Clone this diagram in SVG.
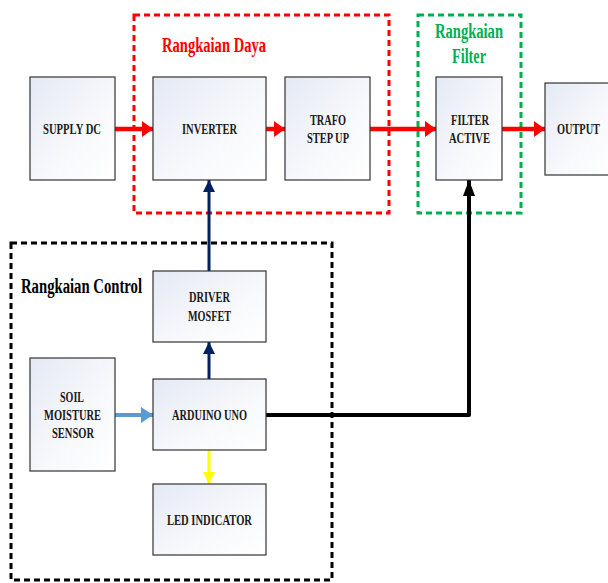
<svg xmlns="http://www.w3.org/2000/svg" width="608" height="583" viewBox="0 0 608 583">
<defs>
<linearGradient id="g" x1="0" y1="0" x2="1" y2="1">
<stop offset="0" stop-color="#e4e9f4"/>
<stop offset="0.6" stop-color="#f8f9fc"/>
<stop offset="1" stop-color="#ffffff"/>
</linearGradient>
<marker id="mr" markerUnits="userSpaceOnUse" markerWidth="12" markerHeight="18" refX="11" refY="8" orient="auto"><path d="M0,0 L11,8 L0,16 Z" fill="#ff0000"/></marker>
<marker id="mn" markerUnits="userSpaceOnUse" markerWidth="14" markerHeight="14" refX="12" refY="6" orient="auto"><path d="M0,0 L12,6 L0,12 Z" fill="#002060"/></marker>
<marker id="mb" markerUnits="userSpaceOnUse" markerWidth="14" markerHeight="18" refX="12" refY="8" orient="auto"><path d="M0,0 L12,8 L0,16 Z" fill="#5b9bd5"/></marker>
<marker id="my" markerUnits="userSpaceOnUse" markerWidth="14" markerHeight="14" refX="12" refY="6" orient="auto"><path d="M0,0 L12,6 L0,12 Z" fill="#ffff00"/></marker>
<marker id="mk" markerUnits="userSpaceOnUse" markerWidth="18" markerHeight="14" refX="16" refY="6" orient="auto"><path d="M0,0 L16,6 L0,12 Z" fill="#000000"/></marker>
</defs>
<style>
.box{fill:url(#g);stroke:#333;stroke-width:1.2}
.lbl{font-family:"Liberation Serif","Times New Roman",serif;font-weight:bold;font-size:14.5px;fill:#1a1a1a}
.ttl{font-family:"Liberation Serif","Times New Roman",serif;font-weight:bold;font-size:20px}
.grp{fill:none;stroke-width:3;stroke-dasharray:6 4}
</style>
<rect width="608" height="583" fill="#fff"/>
<g id="groups">
<rect class="grp" x="134" y="15" width="255" height="198" stroke="#ff0000"/>
<rect class="grp" x="418" y="15" width="103" height="198" stroke="#00b050"/>
<rect class="grp" x="11" y="243" width="321" height="337" stroke="#000"/>
<text class="ttl" x="162" y="52" fill="#ff0000" textLength="104" lengthAdjust="spacingAndGlyphs">Rangkaian Daya</text>
<text class="ttl" x="435" y="38" fill="#00b050" textLength="68" lengthAdjust="spacingAndGlyphs">Rangkaian</text>
<text class="ttl" x="452" y="63" fill="#00b050" textLength="34" lengthAdjust="spacingAndGlyphs">Filter</text>
<text class="ttl" x="21" y="293" fill="#000" textLength="121" lengthAdjust="spacingAndGlyphs">Rangkaian Control</text>
</g>
<g id="connectors">
<line x1="115" y1="129" x2="153" y2="129" stroke="#ff0000" stroke-width="4.5" marker-end="url(#mr)"/>
<line x1="266" y1="129" x2="285" y2="129" stroke="#ff0000" stroke-width="4.5" marker-end="url(#mr)"/>
<line x1="370" y1="129" x2="436" y2="129" stroke="#ff0000" stroke-width="4.5" marker-end="url(#mr)"/>
<line x1="502" y1="129" x2="545" y2="129" stroke="#ff0000" stroke-width="4.5" marker-end="url(#mr)"/>
<line x1="209" y1="271" x2="209" y2="180" stroke="#002060" stroke-width="3" marker-end="url(#mn)"/>
<line x1="209" y1="379" x2="209" y2="342" stroke="#002060" stroke-width="3" marker-end="url(#mn)"/>
<line x1="115" y1="415" x2="153" y2="415" stroke="#5b9bd5" stroke-width="4" marker-end="url(#mb)"/>
<line x1="209" y1="450" x2="209" y2="484" stroke="#ffff00" stroke-width="3" marker-end="url(#my)"/>
<polyline points="266,415 469,415 469,180" fill="none" stroke="#000" stroke-width="4" stroke-linejoin="round" marker-end="url(#mk)"/>
</g>
<g id="supply"><rect class="box" x="30" y="77" width="85" height="103"/><text class="lbl" x="43" y="134" textLength="58" lengthAdjust="spacingAndGlyphs">SUPPLY DC</text></g>
<g id="inverter"><rect class="box" x="153" y="77" width="113" height="103"/><text class="lbl" x="182" y="134" textLength="55" lengthAdjust="spacingAndGlyphs">INVERTER</text></g>
<g id="trafo"><rect class="box" x="285" y="77" width="85" height="103"/><text class="lbl" x="310" y="125" textLength="36" lengthAdjust="spacingAndGlyphs">TRAFO</text><text class="lbl" x="307" y="143" textLength="42" lengthAdjust="spacingAndGlyphs">STEP UP</text></g>
<g id="filter"><rect class="box" x="436" y="77" width="66" height="103"/><text class="lbl" x="451" y="125" textLength="38" lengthAdjust="spacingAndGlyphs">FILTER</text><text class="lbl" x="449" y="143" textLength="41" lengthAdjust="spacingAndGlyphs">ACTIVE</text></g>
<g id="output"><rect class="box" x="545" y="83" width="66" height="92"/><text class="lbl" x="557" y="134" textLength="43" lengthAdjust="spacingAndGlyphs">OUTPUT</text></g>
<g id="driver"><rect class="box" x="153" y="271" width="113" height="71"/><text class="lbl" x="189" y="302" textLength="41" lengthAdjust="spacingAndGlyphs">DRIVER</text><text class="lbl" x="188" y="321" textLength="43" lengthAdjust="spacingAndGlyphs">MOSFET</text></g>
<g id="soil"><rect class="box" x="30" y="358" width="85" height="113"/><text class="lbl" x="60" y="402" textLength="24" lengthAdjust="spacingAndGlyphs">SOIL</text><text class="lbl" x="44" y="420" textLength="57" lengthAdjust="spacingAndGlyphs">MOISTURE</text><text class="lbl" x="52" y="438" textLength="42" lengthAdjust="spacingAndGlyphs">SENSOR</text></g>
<g id="arduino"><rect class="box" x="153" y="379" width="113" height="71"/><text class="lbl" x="172" y="420" textLength="75" lengthAdjust="spacingAndGlyphs">ARDUINO UNO</text></g>
<g id="led"><rect class="box" x="153" y="484" width="113" height="71"/><text class="lbl" x="167" y="525" textLength="85" lengthAdjust="spacingAndGlyphs">LED INDICATOR</text></g>
</svg>
